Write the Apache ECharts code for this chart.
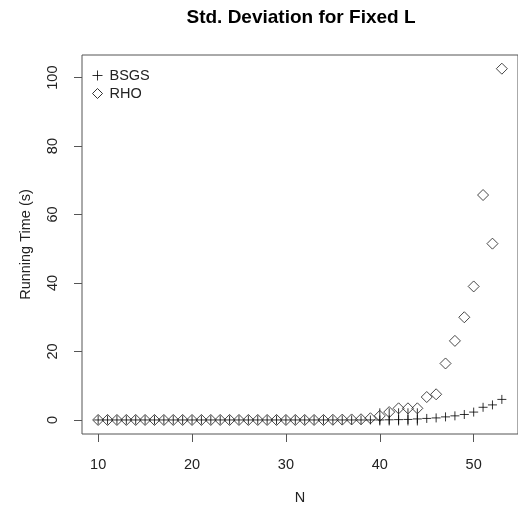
<!DOCTYPE html>
<html>
<head>
<meta charset="utf-8">
<script src="https://cdn.jsdelivr.net/npm/echarts@6/dist/echarts.min.js"></script>
<style>
  html, body { margin: 0; padding: 0; background: #fff; }
  #chart { width: 518px; height: 510px; }
</style>
</head>
<body>
<div id="chart"></div>
<script>
// N values (problem size)
const nValues = [10, 11, 12, 13, 14, 15, 16, 17, 18, 19, 20, 21, 22, 23, 24, 25, 26, 27, 28, 29, 30,
  31, 32, 33, 34, 35, 36, 37, 38, 39, 40, 41, 42, 43, 44, 45, 46, 47, 48, 49, 50, 51, 52, 53]

// std. deviation of running time
const bsgsSd = [0, 0, 0, 0, 0, 0, 0, 0, 0, 0, 0, 0, 0, 0, 0, 0, 0, 0, 0, 0, 0,
  0, 0, 0, 0, 0, 0, 0, 0, 0, 0, 0.05, 0.1, 0.15, 0.3, 0.45, 0.6, 0.9, 1.2, 1.6, 2.3, 3.7, 4.4, 6.0]
const rhoSd = [0, 0, 0, 0, 0, 0, 0, 0, 0, 0, 0, 0, 0, 0, 0, 0, 0, 0, 0, 0, 0,
  0, 0, 0, 0, 0.05, 0.1, 0.15, 0.2, 0.5, 1.2, 2.3, 3.4, 3.4, 3.4, 6.7, 7.5, 16.5, 23.1, 30.0, 39.0, 65.7, 51.5, 102.6]

// vertical strokes seen under the points around N = 40..44
const barN = [40, 41, 42, 43, 44]
const barLow = [-1.6, -1.6, -1.6, -1.6, -1.6]
const barHigh = [3.4, 3.4, 3.4, 3.4, 3.4]

const xTicks = [10, 20, 30, 40, 50]
const yTicks = [0, 20, 40, 60, 80, 100]

const plusPath = 'path://M5,0L5,10M0,5L10,5'
const textColor = '#222'
const boxColor = '#555'

const chart = echarts.init(document.getElementById('chart'))

chart.setOption({
  animation: false,
  backgroundColor: '#fff',
  textStyle: { fontFamily: 'Liberation Sans, Arial, sans-serif' },
  title: {
    text: 'Std. Deviation for Fixed L',
    left: 296,
    top: 3,
    textAlign: 'center',
    textStyle: { fontSize: 19, fontWeight: 'bold', color: '#000' }
  },
  legend: {
    orient: 'vertical',
    left: 85,
    top: 63,
    itemWidth: 10,
    itemHeight: 10,
    itemGap: 3,
    textStyle: { fontSize: 14.5, color: textColor, padding: [0, 0, 0, 2] },
    data: [
      { name: 'BSGS', icon: plusPath, itemStyle: { color: 'none', borderColor: '#000', borderWidth: 1 } },
      { name: 'RHO', icon: 'diamond', itemStyle: { color: 'none', borderColor: '#000', borderWidth: 1 } }
    ]
  },
  grid: {
    left: 82,
    top: 55,
    width: 438,
    height: 381.5,
    show: true,
    borderColor: boxColor,
    borderWidth: 1,
    backgroundColor: 'transparent'
  },
  xAxis: {
    type: 'value',
    min: 8.28,
    max: 54.72,
    name: 'N',
    nameLocation: 'middle',
    nameGap: 56,
    nameTextStyle: { fontSize: 14.5, color: textColor },
    axisLine: { show: false, onZero: false },
    axisTick: { show: true, inside: false, length: 8, customValues: xTicks, lineStyle: { color: boxColor } },
    axisLabel: { customValues: xTicks, fontSize: 14.5, color: textColor, margin: 23 },
    splitLine: { show: false }
  },
  yAxis: {
    type: 'value',
    min: -4.1,
    max: 106.6,
    name: 'Running Time (s)',
    nameLocation: 'middle',
    nameGap: 49,
    nameTextStyle: { fontSize: 14.5, color: textColor },
    axisLine: { show: false, onZero: false },
    axisTick: { show: true, inside: false, length: 8, customValues: yTicks, lineStyle: { color: boxColor } },
    axisLabel: {
      customValues: yTicks,
      fontSize: 14.5,
      color: textColor,
      rotate: 90,
      align: 'center',
      verticalAlign: 'bottom',
      margin: 22
    },
    splitLine: { show: false }
  },
  series: [
    {
      name: 'sd-bars',
      type: 'custom',
      clip: true,
      silent: true,
      data: barN.map((n, i) => [n, barLow[i], barHigh[i]]),
      renderItem: (params, api) => {
        const p1 = api.coord([api.value(0), api.value(1)])
        const p2 = api.coord([api.value(0), api.value(2)])
        return {
          type: 'line',
          shape: { x1: p1[0], y1: p1[1], x2: p2[0], y2: p2[1] },
          style: { stroke: '#333', lineWidth: 1 }
        }
      },
      z: 1
    },
    {
      name: 'RHO',
      type: 'scatter',
      symbol: 'diamond',
      symbolSize: 11,
      data: nValues.map((n, i) => [n, rhoSd[i]]),
      itemStyle: { color: 'none', borderColor: '#1a1a1a', borderWidth: 1 },
      z: 2
    },
    {
      name: 'BSGS',
      type: 'scatter',
      symbol: plusPath,
      symbolSize: 9,
      data: nValues.map((n, i) => [n, bsgsSd[i]]),
      itemStyle: { color: 'none', borderColor: '#000', borderWidth: 1 },
      z: 3
    }
  ]
})
</script>
</body>
</html>
